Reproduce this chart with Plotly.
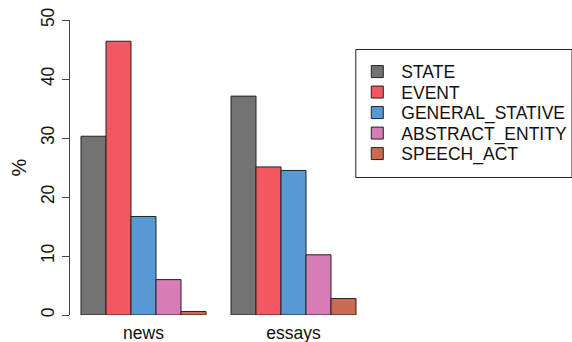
import plotly.graph_objects as go

categories = ["news", "essays"]
series_names = ["STATE", "EVENT", "GENERAL_STATIVE", "ABSTRACT_ENTITY", "SPEECH_ACT"]
values = {
    "STATE": [30.3, 37.1],
    "EVENT": [46.4, 25.1],
    "GENERAL_STATIVE": [16.7, 24.5],
    "ABSTRACT_ENTITY": [6.0, 10.2],
    "SPEECH_ACT": [0.6, 2.8],
}
colors = ["#737373", "#F25862", "#5999D3", "#D77CB4", "#C96B50"]
y_ticks = [0, 10, 20, 30, 40, 50]

FONT = "Liberation Sans, Arial, Helvetica, sans-serif"
FS = 17.5

W, H = 572, 342
left, right, top, bottom = 70, 366.7, 20, 315
pw, ph = right - left, bottom - top

fig = go.Figure()
legend_layouts = {}
for i, (name, col) in enumerate(zip(series_names, colors)):
    lg = "legend" if i == 0 else f"legend{i + 1}"
    fig.add_trace(go.Bar(
        x=categories, y=values[name], name=name, legend=lg,
        marker=dict(color=col, line=dict(color="#222222", width=1)),
    ))
    item_center = 71.7 + 20.5 * i
    legend_layouts[lg] = dict(
        x=(353 - left) / pw, xanchor="left",
        y=(bottom - (item_center - 18)) / ph, yanchor="top",
        bgcolor="rgba(0,0,0,0)", borderwidth=0,
        font=dict(family=FONT, size=FS, color="#111111"),
        itemwidth=38,
    )

fig.update_layout(
    width=W, height=H,
    margin=dict(l=left, r=W - right, t=top, b=H - bottom, pad=0, autoexpand=False),
    paper_bgcolor="white", plot_bgcolor="white",
    barmode="group", bargap=1/6, bargroupgap=0,
    font=dict(family=FONT, size=FS, color="#111111"),
    showlegend=True,
    xaxis=dict(
        range=[-0.49, 1.49], showline=False, showgrid=False, zeroline=False,
        ticks="outside", ticklen=2, tickcolor="rgba(0,0,0,0)",
        tickfont=dict(size=FS), automargin=False,
    ),
    yaxis=dict(
        range=[0, 50], tickvals=y_ticks, ticktext=[str(v) for v in y_ticks],
        showline=True, linecolor="#444444", linewidth=1,
        ticks="outside", ticklen=7, tickcolor="#444444",
        tickangle=-90, showgrid=False, zeroline=False,
        tickfont=dict(size=FS), automargin=False, ticklabelstandoff=1,
        title=dict(text="%", font=dict(size=20), standoff=6),
    ),
    shapes=[dict(
        type="rect", xref="paper", yref="paper",
        x0=(355.5 - left) / pw, x1=(571.5 - left) / pw,
        y0=(bottom - 177.5) / ph, y1=(bottom - 49.5) / ph,
        line=dict(color="#222222", width=1), fillcolor="rgba(0,0,0,0)",
    )],
    **legend_layouts,
)

fig.write_html(
    "out.html",
    config={"displayModeBar": False},
    post_script="document.body.style.margin='0';document.body.style.overflow='hidden';",
)
